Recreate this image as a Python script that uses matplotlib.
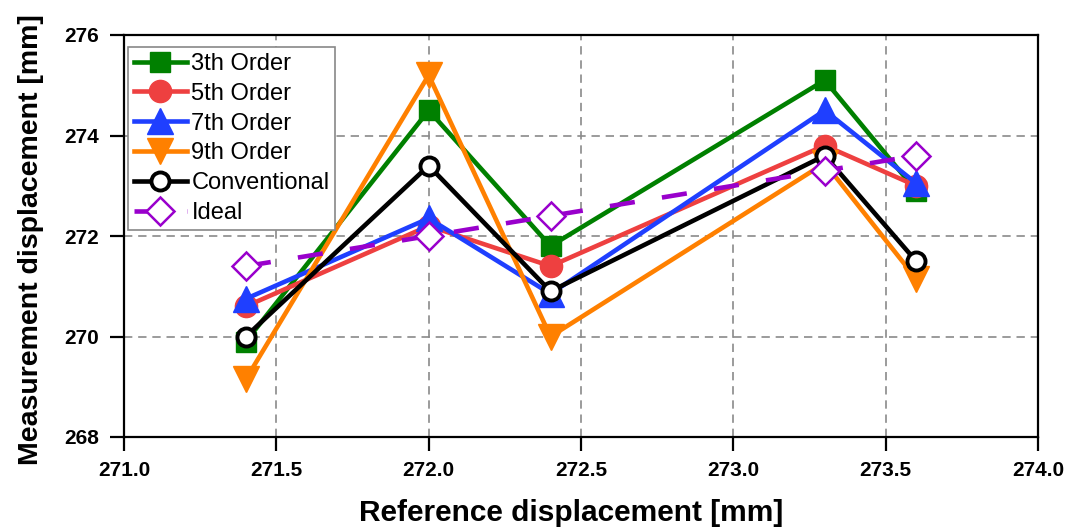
import matplotlib
matplotlib.use("Agg")
import matplotlib.pyplot as plt
from matplotlib.ticker import FormatStrFormatter

plt.rcParams['font.family'] = ['Liberation Sans', 'DejaVu Sans']

# Reference displacements [mm]
reference = [271.4, 272.0, 272.4, 273.3, 273.6]

# Measured displacements [mm] per fitting order
order3 = [269.9, 274.5, 271.8, 275.1, 272.9]
order5 = [270.6, 272.2, 271.4, 273.8, 273.0]
order7 = [270.75, 272.35, 270.85, 274.5, 273.05]
order9 = [269.15, 275.2, 270.0, 273.45, 271.15]
conventional = [270.0, 273.4, 270.9, 273.6, 271.5]
ideal = [271.4, 272.0, 272.4, 273.3, 273.6]

series_labels = ["3th Order", "5th Order", "7th Order", "9th Order",
                 "Conventional", "Ideal"]
x_ticks = [271.0, 271.5, 272.0, 272.5, 273.0, 273.5, 274.0]
y_ticks = [268, 270, 272, 274, 276]

fig = plt.figure(figsize=(10.69, 5.31), dpi=100)
ax = fig.add_axes([124 / 1069, 94 / 531, 914 / 1069, 402 / 531])

lw = 3.3
ax.plot(reference, order3, '-s', color='#008000', lw=lw, ms=15,
        label=series_labels[0])
ax.plot(reference, order5, '-o', color='#EE4040', lw=lw, ms=16,
        label=series_labels[1])
ax.plot(reference, order7, '-^', color='#1F3FFF', lw=lw, ms=18.5,
        label=series_labels[2])
ax.plot(reference, order9, '-v', color='#FF8000', lw=lw, ms=18.5,
        label=series_labels[3])
ax.plot(reference, conventional, '-o', color='black', lw=lw, ms=13,
        mfc='white', mec='black', mew=2.8, label=series_labels[4])
ax.plot(reference, ideal, 'D', ls=(0, (5.5, 6)), color='#9900CC', lw=lw,
        ms=14.5, mfc='white', mec='#9900CC', mew=1.8, label=series_labels[5])

ax.set_xlim(271.0, 274.0)
ax.set_ylim(268, 276)
ax.set_xticks(x_ticks)
ax.set_yticks(y_ticks)
ax.xaxis.set_major_formatter(FormatStrFormatter('%.1f'))

ax.grid(True, color='#8a8a8a', ls=(0, (5, 3.5)), lw=1.2)
ax.set_axisbelow(True)

for side in ['left', 'bottom', 'top', 'right']:
    ax.spines[side].set_linewidth(1.6)
    ax.spines[side].set_color('black')

ax.tick_params(axis='both', direction='out', length=10, width=1.6,
               labelsize=15, colors='black')
ax.tick_params(axis='x', pad=7)
ax.tick_params(axis='y', pad=8)
for lab in ax.get_xticklabels() + ax.get_yticklabels():
    lab.set_fontweight('bold')

ax.set_xlabel("Reference displacement [mm]", fontsize=21.5,
              fontweight='bold')
ax.set_ylabel("Measurement displacement [mm]", fontsize=20.5,
              fontweight='bold')
ax.xaxis.set_label_coords(0.489, -0.155)
ax.yaxis.set_label_coords(-0.088, 0.49)

leg = ax.legend(loc='upper left', bbox_to_anchor=(0.004, 0.97),
                fontsize=17, frameon=True, fancybox=False,
                edgecolor='#888888', framealpha=1, borderaxespad=0,
                handlelength=2.25, handletextpad=0.2, labelspacing=0.33,
                borderpad=0.25)
leg.get_frame().set_linewidth(1.2)

fig.savefig("out.png", dpi=100)
